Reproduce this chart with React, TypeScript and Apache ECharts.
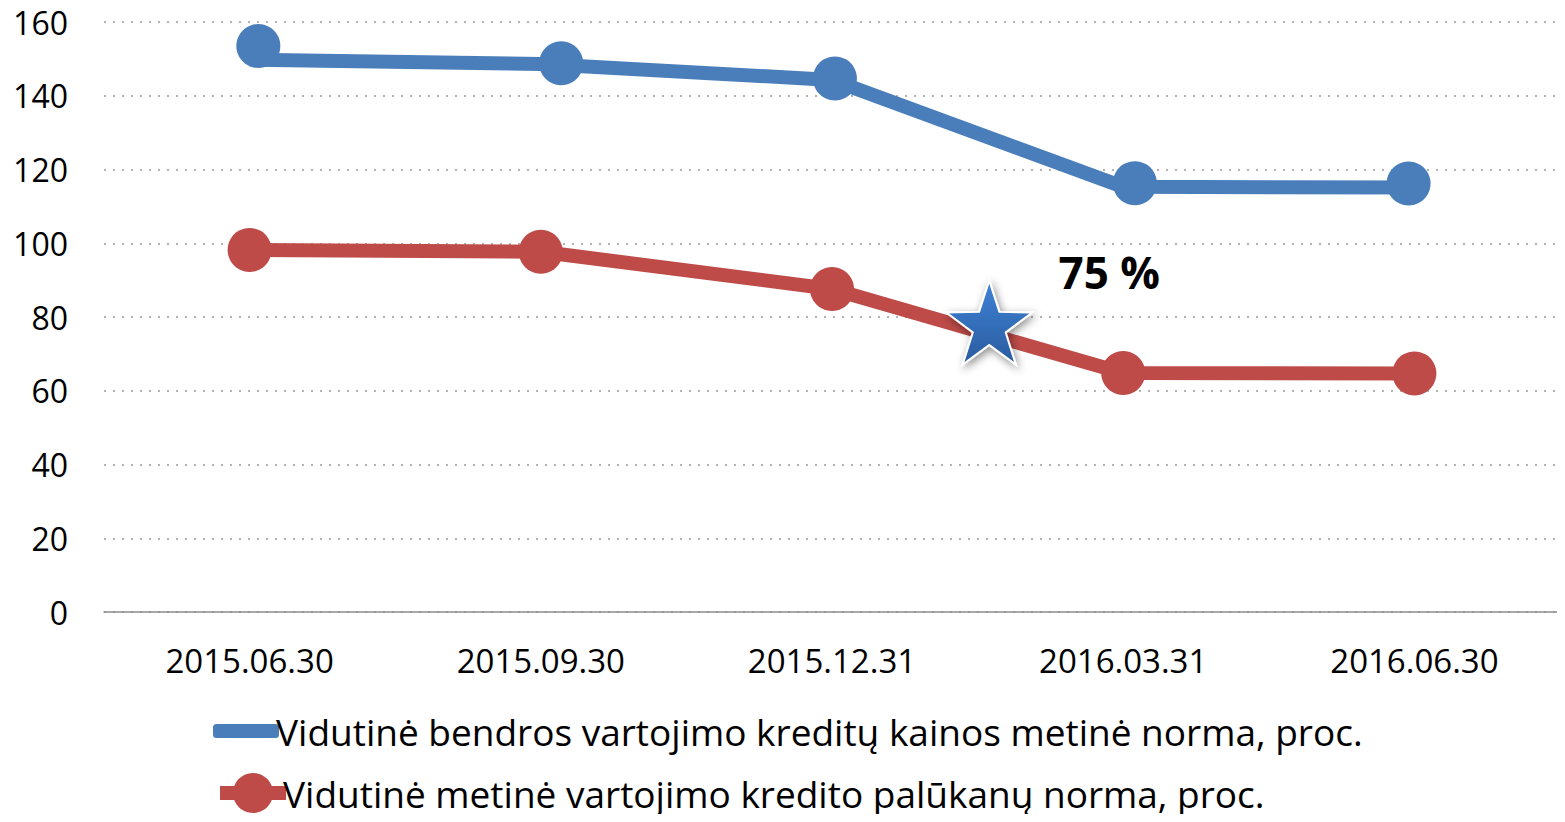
import React, { useEffect, useRef } from "react";
import * as echarts from "echarts";

const categories = ["2015.06.30", "2015.09.30", "2015.12.31", "2016.03.31", "2016.06.30"];
const seriesNames = [
  "Vidutinė bendros vartojimo kreditų kainos metinė norma, proc.",
  "Vidutinė metinė vartojimo kredito palūkanų norma, proc.",
];
const blueLine = [149.8, 148.6, 144.3, 115.3, 115.1];
const redLine = [98.2, 97.7, 87.6, 64.8, 64.7];
// decorative blue circles, placed on a continuous position scale (category index)
const blueMarkers: [number, number][] = [
  [0.03, 153.5],
  [1.07, 148.8],
  [2.01, 144.7],
  [3.04, 116.3],
  [3.98, 116.2],
];
const starPoint: [number, number] = [2.54, 78.5];
const starLabel = "75 %";
const yTicks = { min: 0, max: 160, interval: 20 };

const BLUE = "#4a7ebb";
const RED = "#be4b48";
const FONT = "'Open Sans', 'Noto Sans', sans-serif";
const STAR =
  "path://M50,0 L61.8,35.5 L100,36.2 L69.1,58.8 L80.9,95.1 L50,73 L19.1,95.1 L30.9,58.8 L0,36.2 L38.2,35.5 Z";

const legendText = {
  fontFamily: FONT,
  fontSize: 37,
  lineHeight: 40,
  color: "#000",
  padding: [0, 0, 0, -8],
};

export default function App() {
  const ref = useRef<HTMLDivElement>(null);
  useEffect(() => {
    const chart = echarts.init(ref.current!, undefined, { renderer: "svg" });
    chart.setOption({
      animation: false,
      grid: { left: 104, right: 5, top: 22, bottom: 210, containLabel: false },
      legend: [
        {
          orient: "vertical",
          left: 213,
          top: 711,
          padding: 0,
          itemWidth: 66,
          itemHeight: 14,
          textStyle: legendText,
          data: [{ name: seriesNames[0], icon: "roundRect", itemStyle: { color: BLUE } }],
        },
        {
          orient: "vertical",
          left: 213,
          top: 773,
          padding: 0,
          itemWidth: 66,
          itemHeight: 50,
          textStyle: legendText,
          data: [{ name: seriesNames[1], lineStyle: { width: 14, color: RED }, itemStyle: { color: RED } }],
        },
      ],
      xAxis: [
        {
          type: "category",
          data: categories,
          boundaryGap: true,
          axisLine: { lineStyle: { color: "#8c8c8c", width: 1.5 } },
          axisTick: { length: 12, lineStyle: { color: "#8c8c8c", width: 1.5 } },
          axisLabel: { fontFamily: FONT, fontSize: 33, color: "#000", margin: 32 },
        },
        { type: "value", min: -0.5, max: 4.5, show: false },
      ],
      yAxis: {
        type: "value",
        min: yTicks.min,
        max: yTicks.max,
        interval: yTicks.interval,
        axisLine: { show: false },
        axisTick: { show: false },
        axisLabel: { fontFamily: FONT, fontSize: 32, color: "#000", margin: 36 },
        splitLine: { lineStyle: { color: "#999", type: [2, 7], width: 1.5 } },
      },
      series: [
        {
          name: seriesNames[0],
          type: "line",
          data: blueLine,
          symbol: "none",
          lineStyle: { color: BLUE, width: 14 },
          itemStyle: { color: BLUE },
          z: 2,
        },
        {
          name: seriesNames[1],
          type: "line",
          data: redLine,
          symbol: "circle",
          symbolSize: 44,
          lineStyle: { color: RED, width: 14 },
          itemStyle: { color: RED },
          z: 2,
        },
        {
          type: "scatter",
          xAxisIndex: 1,
          data: blueMarkers,
          symbol: "circle",
          symbolSize: 44,
          itemStyle: { color: BLUE, opacity: 1 },
          z: 3,
          silent: true,
        },
        {
          type: "scatter",
          xAxisIndex: 1,
          data: [starPoint],
          symbol: STAR,
          symbolSize: [86, 84],
          itemStyle: {
            color: {
              type: "linear",
              x: 0,
              y: 0,
              x2: 0,
              y2: 1,
              colorStops: [
                { offset: 0, color: "#3f82d6" },
                { offset: 1, color: "#2a5c9f" },
              ],
            },
            borderColor: "#ffffff",
            borderWidth: 2,
            shadowColor: "rgba(0,0,0,0.45)",
            shadowBlur: 8,
            shadowOffsetX: 2,
            shadowOffsetY: 3,
            opacity: 1,
          },
          label: {
            show: true,
            formatter: () => starLabel,
            position: "inside",
            offset: [120, -51],
            fontFamily: FONT,
            fontWeight: "bold",
            fontSize: 44,
            color: "#000",
          },
          z: 4,
          silent: true,
        },
      ],
    });
    return () => chart.dispose();
  }, []);
  return <div ref={ref} style={{ width: 1565, height: 822, margin: -8 }} />;
}
